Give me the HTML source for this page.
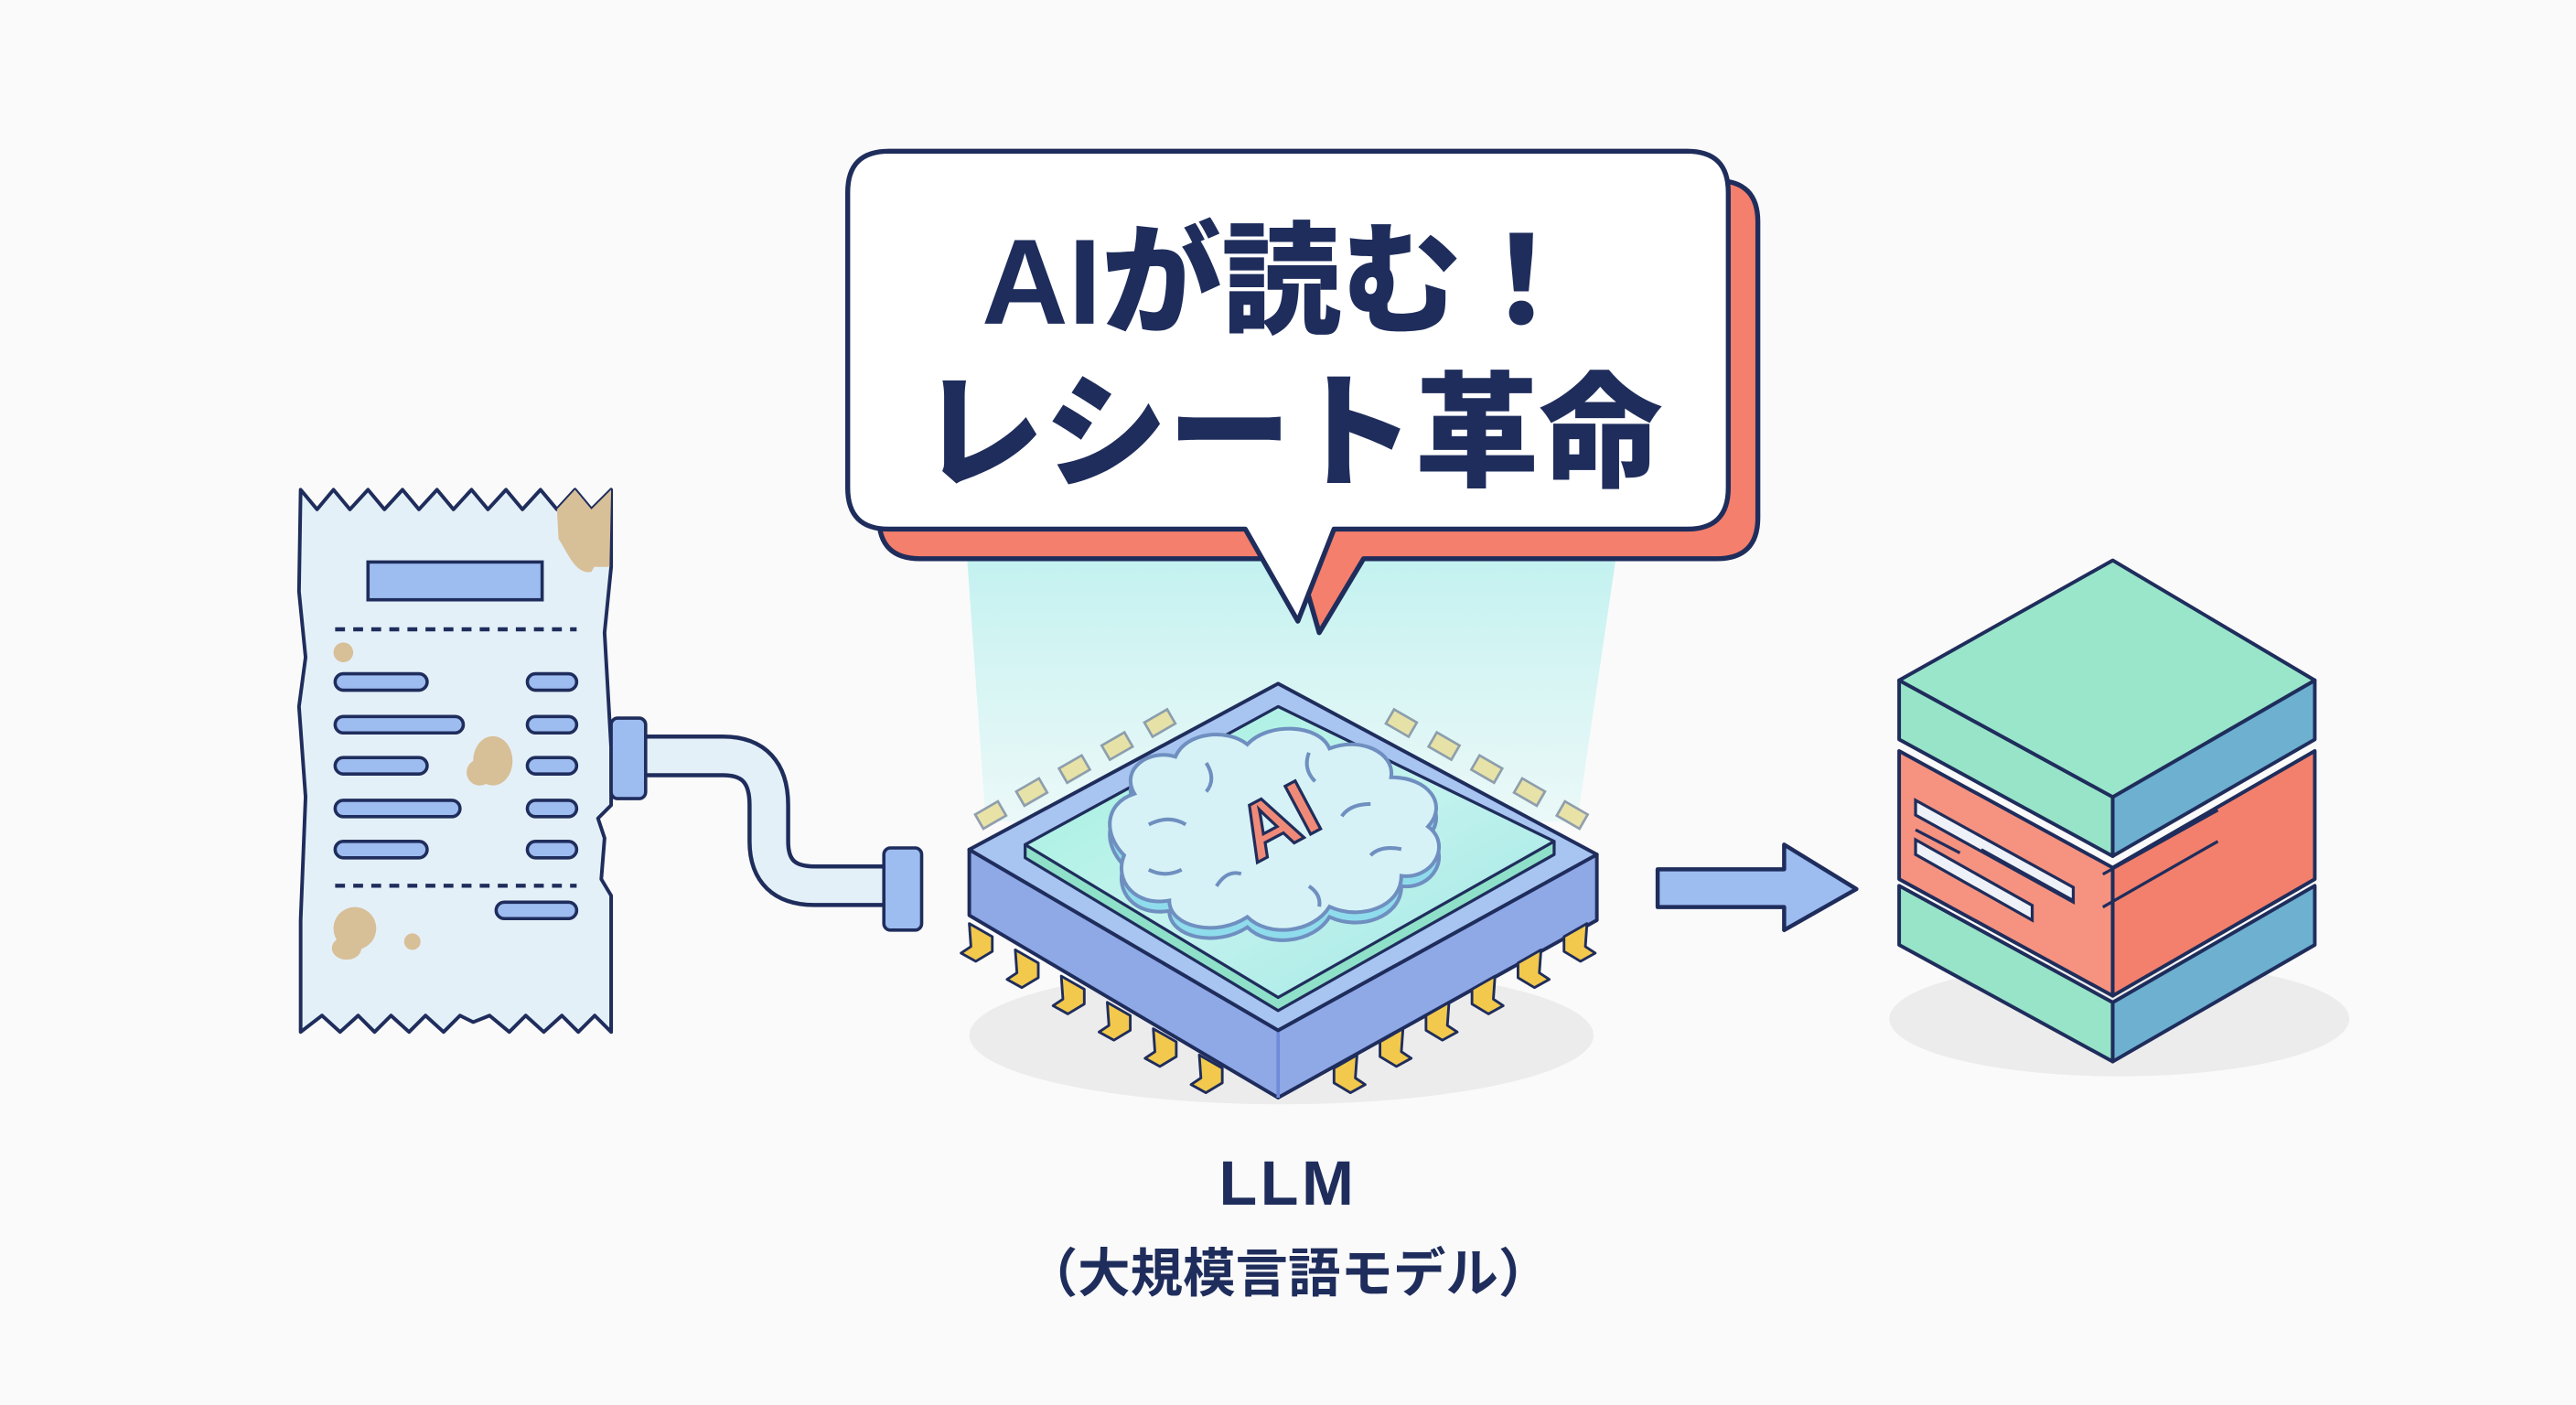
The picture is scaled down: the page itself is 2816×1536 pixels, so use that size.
<!DOCTYPE html>
<html><head><meta charset="utf-8"><style>
html,body{margin:0;padding:0;background:#fafafa;}
svg{display:block;}
</style></head><body>
<svg width="2816" height="1536" viewBox="0 0 1568 855" preserveAspectRatio="none" xmlns="http://www.w3.org/2000/svg">
<defs>
<linearGradient id="beam" x1="0" y1="0" x2="0" y2="1">
<stop offset="0" stop-color="#b9f0ee" stop-opacity="0.9"/>
<stop offset="1" stop-color="#dff7f6" stop-opacity="0.6"/>
</linearGradient>
<linearGradient id="glass" x1="0" y1="0" x2="1" y2="1">
<stop offset="0" stop-color="#9ff0dc"/>
<stop offset="0.5" stop-color="#c4f3ef"/>
<stop offset="1" stop-color="#9fe6e2"/>
</linearGradient>
<path id="pinL" d="M0,0 l14,8 l0,9 l-10,6 l-9,-5 l6,-4 z"/>
<path id="pinR" d="M0,0 l-14,8 l0,9 l10,6 l9,-5 l-6,-4 z"/>
</defs>
<rect width="1568" height="855" fill="#fafafa"/>

<!-- light beam -->
<polygon points="588,330 985,330 960,500 600,500" fill="url(#beam)"/>

<!-- ===== Receipt ===== -->
<path d="M183,298 L193,310 L203,298 L213,310 L224,298 L234,310 L245,298 L255,310 L266,298 L276,310 L287,298 L297,310 L308,298 L318,310 L329,298 L339,310 L350,298 L360,310 L372,298 L372,345 L368,385 L372,455 L372,490 L364,498 L368,510 L366,535 L372,545 L372,628 L362,618 L352,628 L342,618 L331,628 L320,618 L310,628 L298,618 L288,622 L280,618 L270,628 L259,618 L249,628 L238,618 L228,628 L218,618 L207,628 L196,618 L183,628 L183,560 L186,485 L182,430 L186,400 L182,360 Z" fill="#e4f0f8" stroke="#1f2d5c" stroke-width="2.2" stroke-linejoin="round"/>
<path d="M339,310 L350,298 L360,310 L372,298 L371,345 L362,345 L356,330 L340,328 Z" fill="#d7bf98"/>
<path d="M360,348 C350,350 345,335 340,328 L370,330 Z" fill="#d7bf98"/>
<ellipse cx="300" cy="463" rx="12" ry="15" fill="#d7bf98"/>
<ellipse cx="292" cy="470" rx="8" ry="8" fill="#d7bf98"/>
<ellipse cx="216" cy="565" rx="13" ry="13" fill="#d7bf98"/>
<ellipse cx="211" cy="577" rx="9" ry="7" fill="#d7bf98"/>
<circle cx="251" cy="573" r="5" fill="#d7bf98"/>
<circle cx="209" cy="397" r="6" fill="#d7bf98"/>
<rect x="224" y="342" width="106" height="23" fill="#9dbcf0" stroke="#1f2d5c" stroke-width="2"/>
<line x1="204" y1="383" x2="351" y2="383" stroke="#1f2d5c" stroke-width="2.5" stroke-dasharray="6,5"/>
<line x1="204" y1="539" x2="351" y2="539" stroke="#1f2d5c" stroke-width="2.5" stroke-dasharray="6,5"/>
<g fill="#9dbcf0" stroke="#1f2d5c" stroke-width="2">
<rect x="204" y="410" width="56" height="10" rx="5"/>
<rect x="204" y="436" width="78" height="10" rx="5"/>
<rect x="204" y="461" width="56" height="10" rx="5"/>
<rect x="204" y="487" width="76" height="10" rx="5"/>
<rect x="204" y="512" width="56" height="10" rx="5"/>
<rect x="321" y="410" width="30" height="10" rx="5"/>
<rect x="321" y="436" width="30" height="10" rx="5"/>
<rect x="321" y="461" width="30" height="10" rx="5"/>
<rect x="321" y="487" width="30" height="10" rx="5"/>
<rect x="321" y="512" width="30" height="10" rx="5"/>
<rect x="302" y="549" width="49" height="10" rx="5"/>
</g>

<!-- tube -->
<path d="M392,460 L440,460 Q468,460 468,490 L468,512 Q468,539 496,539 L540,539" fill="none" stroke="#1f2d5c" stroke-width="26"/>
<path d="M392,460 L440,460 Q468,460 468,490 L468,512 Q468,539 496,539 L540,539" fill="none" stroke="#e4f0f8" stroke-width="21"/>
<rect x="372" y="437" width="21" height="49" rx="4" fill="#9dbcf0" stroke="#1f2d5c" stroke-width="2"/>
<rect x="538" y="516" width="23" height="50" rx="4" fill="#9dbcf0" stroke="#1f2d5c" stroke-width="2"/>

<!-- ===== Chip ===== -->
<ellipse cx="780" cy="630" rx="190" ry="42" fill="#ececec"/>
<!-- back pins -->
<g fill="#e8df9a" stroke="#7f8fa0" stroke-width="1.5" opacity="0.85">
<rect x="595" y="491" width="16" height="10" transform="rotate(-30 603 496)"/>
<rect x="620" y="477" width="16" height="10" transform="rotate(-30 628 482)"/>
<rect x="646" y="463" width="16" height="10" transform="rotate(-30 654 468)"/>
<rect x="672" y="449" width="16" height="10" transform="rotate(-30 680 454)"/>
<rect x="698" y="435" width="16" height="10" transform="rotate(-30 706 440)"/>
<rect x="845" y="435" width="16" height="10" transform="rotate(30 853 440)"/>
<rect x="871" y="449" width="16" height="10" transform="rotate(30 879 454)"/>
<rect x="897" y="463" width="16" height="10" transform="rotate(30 905 468)"/>
<rect x="923" y="477" width="16" height="10" transform="rotate(30 931 482)"/>
<rect x="949" y="491" width="16" height="10" transform="rotate(30 957 496)"/>
</g>
<!-- body sides -->
<path d="M590,517 L778,627 L972,520 L972,560 L778,668 L590,557 Z" fill="#8fa8e6" stroke="#1f2d5c" stroke-width="2.2" stroke-linejoin="round"/>
<line x1="778" y1="627" x2="778" y2="668" stroke="#6f8ad8" stroke-width="2"/>
<!-- body top -->
<path d="M590,517 L778,416 L972,520 L778,627 Z" fill="#a8c4f0" stroke="#1f2d5c" stroke-width="2.2" stroke-linejoin="round"/>
<!-- glass plate -->
<path d="M624,514 L778,430 L946,512 L946,520 L778,615 L624,522 Z" fill="#8fe0c8" stroke="#1f2d5c" stroke-width="1.8" stroke-linejoin="round"/>
<path d="M624,514 L778,430 L946,512 L778,607 Z" fill="url(#glass)" stroke="#1f2d5c" stroke-width="1.8" stroke-linejoin="round"/>
<!-- brain -->
<g transform="translate(778,508) scale(1.25) translate(-775,-505)" stroke="#6f8fc0" stroke-width="1.8" fill="none">
<path d="M700,520 C690,510 690,495 705,490 C698,478 712,468 725,472 C730,460 750,458 760,466 C770,455 795,456 800,468 C815,462 832,470 830,482 C848,482 858,495 848,506 C860,515 850,532 835,530 C835,545 815,552 800,545 C792,558 770,560 760,550 C745,560 722,555 722,542 C705,545 695,532 700,520 Z" fill="#8fdcec"/>
<path d="M700,515 C690,505 690,490 705,485 C698,473 712,463 725,467 C730,455 750,453 760,461 C770,450 795,451 800,463 C815,457 832,465 830,477 C848,477 858,490 848,501 C860,510 850,527 835,525 C835,540 815,547 800,540 C792,553 770,555 760,545 C745,555 722,550 722,537 C705,540 695,527 700,515 Z" fill="#d6f2f6"/>
<path d="M712,500 q10,-5 18,0 M740,470 q5,8 0,14 M790,465 q-3,8 3,14 M820,490 q-10,0 -14,6 M835,512 q-10,-2 -15,3 M745,530 q5,-8 12,-6 M790,530 q6,4 5,10 M712,522 q8,4 16,0"/>
</g>
<g transform="translate(778,500) rotate(-28)">
<text x="0" y="16" text-anchor="middle" font-family="Liberation Sans, sans-serif" font-weight="bold" font-size="48" fill="#f08a78" stroke="#1f2d5c" stroke-width="1.8">AI</text>
</g>
<!-- front pins -->
<g fill="#f2c94c" stroke="#1f2d5c" stroke-width="1.6" stroke-linejoin="round">
<use href="#pinL" x="590" y="562"/>
<use href="#pinL" x="618" y="578"/>
<use href="#pinL" x="646" y="594"/>
<use href="#pinL" x="674" y="610"/>
<use href="#pinL" x="702" y="626"/>
<use href="#pinL" x="730" y="642"/>
<use href="#pinR" x="826" y="642"/>
<use href="#pinR" x="854" y="626"/>
<use href="#pinR" x="882" y="610"/>
<use href="#pinR" x="910" y="594"/>
<use href="#pinR" x="938" y="578"/>
<use href="#pinR" x="966" y="562"/>
</g>

<!-- labels -->
<text x="784" y="733" text-anchor="middle" font-family="Liberation Sans, sans-serif" font-weight="bold" font-size="38" fill="#1f2d5c" letter-spacing="2">LLM</text>
<text x="784" y="786" text-anchor="middle" font-family="'Liberation Sans','Noto Sans CJK JP',sans-serif" font-weight="bold" font-size="32" fill="#1f2d5c">（大規模言語モデル）</text>

<!-- ===== Speech bubble ===== -->
<path d="M560,110 L1045,110 Q1070,110 1070,135 L1070,315 Q1070,340 1045,340 L830,340 L803,385 L790,340 L560,340 Q535,340 535,315 L535,135 Q535,110 560,110 Z" fill="#f47f6c" stroke="#1f2d5c" stroke-width="3" stroke-linejoin="round"/>
<path d="M541,92 L1027,92 Q1052,92 1052,117 L1052,297 Q1052,322 1027,322 L812,322 L790,378 L758,322 L541,322 Q516,322 516,297 L516,117 Q516,92 541,92 Z" fill="#ffffff" stroke="#1f2d5c" stroke-width="3" stroke-linejoin="round"/>
<text x="780" y="197" text-anchor="middle" font-family="'Liberation Sans','Noto Sans CJK JP',sans-serif" font-weight="900" font-size="74" fill="#1f2d5c" textLength="365" lengthAdjust="spacingAndGlyphs">AIが読む！</text>
<text x="786" y="290" text-anchor="middle" font-family="'Liberation Sans','Noto Sans CJK JP',sans-serif" font-weight="900" font-size="76" fill="#1f2d5c" textLength="452" lengthAdjust="spacingAndGlyphs">レシート革命</text>

<!-- ===== Arrow ===== -->
<path d="M1009,529 L1086,529 L1086,514 L1130,541 L1086,566 L1086,552 L1009,552 Z" fill="#9dbcf0" stroke="#1f2d5c" stroke-width="2.5" stroke-linejoin="round"/>

<!-- ===== Database stack ===== -->
<ellipse cx="1290" cy="620" rx="140" ry="35" fill="#ececec"/>
<!-- bottom slab -->
<path d="M1156,539 L1286,610 L1286,646 L1156,575 Z" fill="#98e4c8" stroke="#1f2d5c" stroke-width="2.2" stroke-linejoin="round"/>
<path d="M1286,610 L1409,539 L1409,575 L1286,646 Z" fill="#6db0d0" stroke="#1f2d5c" stroke-width="2.2" stroke-linejoin="round"/>
<!-- middle slab -->
<path d="M1156,457 L1286,528 L1286,606 L1156,535 Z" fill="#f59380" stroke="#1f2d5c" stroke-width="2.2" stroke-linejoin="round"/>
<path d="M1286,528 L1409,457 L1409,535 L1286,606 Z" fill="#f3806c" stroke="#1f2d5c" stroke-width="2.2" stroke-linejoin="round"/>
<polygon points="1166,487 1262,540 1262,549 1166,496" fill="#eef2f8" stroke="#1f2d5c" stroke-width="1.8"/>
<polygon points="1166,511 1237,551 1237,560 1166,520" fill="#eef2f8" stroke="#1f2d5c" stroke-width="1.8"/>
<g stroke="#1f2d5c" stroke-width="1.8">
<line x1="1166" y1="505" x2="1193" y2="519"/>
<line x1="1206" y1="517" x2="1262" y2="548"/>
<line x1="1350" y1="493" x2="1280" y2="532"/>
<line x1="1350" y1="512" x2="1280" y2="552"/>
</g>
<!-- top slab -->
<path d="M1156,414 L1286,485 L1286,521 L1156,450 Z" fill="#98e4c8" stroke="#1f2d5c" stroke-width="2.2" stroke-linejoin="round"/>
<path d="M1286,485 L1409,414 L1409,450 L1286,521 Z" fill="#6db0d0" stroke="#1f2d5c" stroke-width="2.2" stroke-linejoin="round"/>
<path d="M1286,341 L1409,414 L1286,485 L1156,414 Z" fill="#9ae6cb" stroke="#1f2d5c" stroke-width="2.2" stroke-linejoin="round"/>
</svg>
</body></html>
